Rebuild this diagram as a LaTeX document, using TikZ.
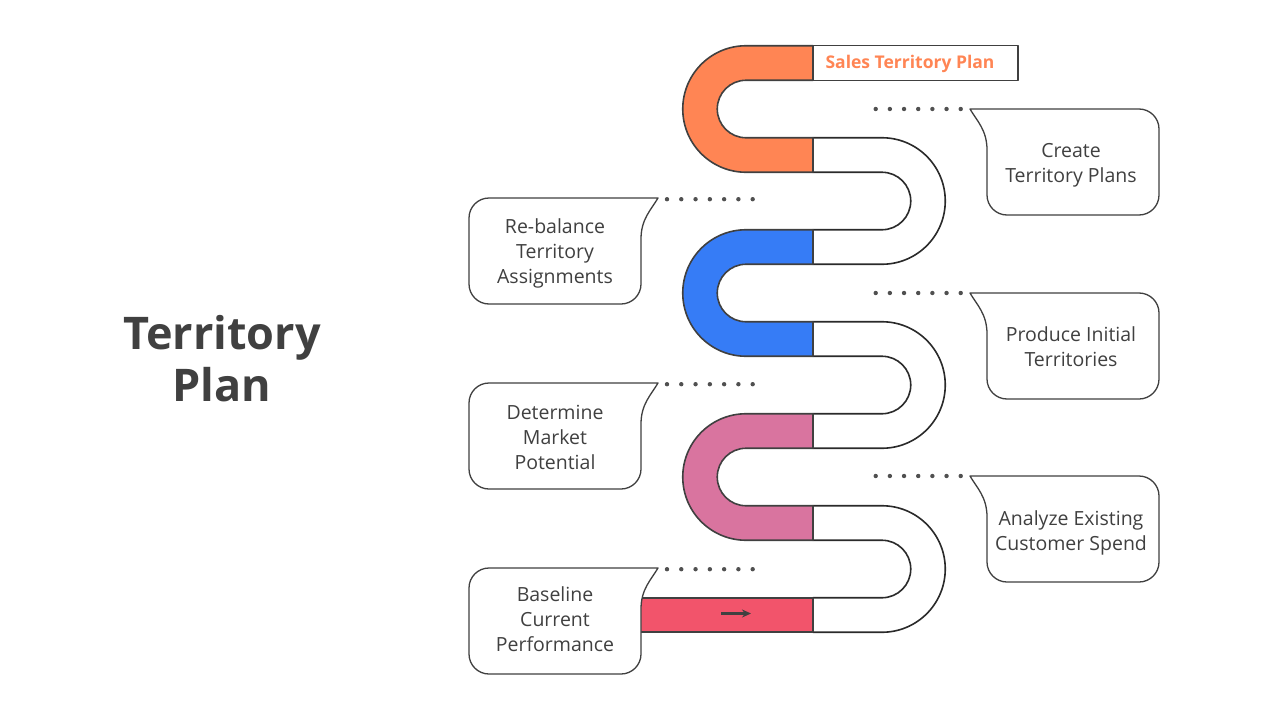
\documentclass[tikz,border=0pt]{standalone}
\usepackage{fontspec}
\setmainfont{Open Sans}
\usetikzlibrary{arrows.meta}
\definecolor{ink}{HTML}{404040}
\definecolor{darkink}{HTML}{2A2A2A}
\definecolor{orangeC}{HTML}{FF8554}
\definecolor{blueC}{HTML}{367CF6}
\definecolor{pinkC}{HTML}{D9749F}
\definecolor{redC}{HTML}{F2546B}
\definecolor{dotC}{HTML}{505050}
\tikzset{
  band/.style={draw=ink, line width=1.6pt, line join=round},
  whiteband/.style={draw=darkink, line width=1.6pt, line join=round},
  callout/.style={draw=ink, line width=1.3pt, fill=white, line join=round},
  ctext/.style={text=ink, align=center, font=\fontsize{19.5}{25}\selectfont},
  titletext/.style={text=ink, font=\fontsize{45}{54}\selectfont\bfseries, anchor=base},
  headtext/.style={text=orangeC, font=\fontsize{17.5}{20}\selectfont\bfseries},
  dotstyle/.style={fill=dotC}
}
\newcommand\leftU[2]{%
  \filldraw[band, fill=#2] (813,-#1+63.25) -- (746,-#1+63.25) arc[start angle=90,end angle=270,radius=63.25]
    -- (813,-#1-63.25) -- (813,-#1-28.75) -- (746,-#1-28.75) arc[start angle=270,end angle=90,radius=28.75]
    -- (813,-#1+28.75) -- cycle;}
\newcommand\rightU[1]{%
  \filldraw[whiteband, fill=white] (813,-#1+63.25) -- (882,-#1+63.25) arc[start angle=90,end angle=-90,radius=63.25]
    -- (813,-#1-63.25) -- (813,-#1-28.75) -- (882,-#1-28.75) arc[start angle=-90,end angle=90,radius=28.75]
    -- (813,-#1+28.75) -- cycle;}
% #1 top y, #2 text centre offset, #3 name, #4 text
\newcommand\rbox[4]{%
  \begin{scope}[shift={(0,-#1)}]
    \draw[callout] (970,0) -- (1139,0) arc[start angle=90,end angle=0,radius=20] -- (1159,-86)
      arc[start angle=0,end angle=-90,radius=20] -- (1007,-106) arc[start angle=-90,end angle=-180,radius=20]
      -- (987,-41) .. controls (987,-21) and (977,-12) .. (970,0) -- cycle;
    \node[ctext] (#3) at (1071,-#2) {#4};
    \foreach \i in {0,...,6} \fill[dotstyle] (875.7+14.17*\i,0) circle (2.2);
  \end{scope}}
\newcommand\lbox[4]{%
  \begin{scope}[shift={(0,-#1)}]
    \draw[callout] (658,0) -- (489,0) arc[start angle=90,end angle=180,radius=20] -- (469,-86)
      arc[start angle=180,end angle=270,radius=20] -- (621,-106) arc[start angle=270,end angle=360,radius=20]
      -- (641,-41) .. controls (641,-21) and (651,-12) .. (658,0) -- cycle;
    \node[ctext] (#3) at (555,-#2) {#4};
    \foreach \i in {0,...,6} \fill[dotstyle] (667+14.28*\i,-1.2) circle (2.2);
  \end{scope}}
\begin{document}
\begin{tikzpicture}[x=1pt,y=1pt]
  \fill[white] (0,0) rectangle (1280,-720);
  \useasboundingbox (0,0) rectangle (1280,-720);
  % title
  \node[titletext] (t1) at (222,-349) {Territory};
  \node[titletext] (t2) at (222,-401) {Plan};
  % snake
  \rightU{201}
  \rightU{385}
  \rightU{569}
  \leftU{109}{orangeC}
  \leftU{293}{blueC}
  \leftU{477}{pinkC}
  \filldraw[band, fill=redC] (640,-597.75) rectangle (813,-632.25);
  \coordinate (a1) at (721,-613.5);
  \coordinate (a2) at (751,-613.5);
  \draw[draw=ink, line width=2.4pt, -{Stealth[length=9pt,width=8pt]}] (a1) -- (a2);
  % header
  \draw[band, line width=1.4pt] (813,-45.75) rectangle (1018,-80.25);
  \node[headtext] (head) at (910,-63.5) {Sales Territory Plan};
  % callouts
  \rbox{109}{56}{c1}{Create\\Territory Plans}
  \rbox{293}{54}{c2}{Produce Initial\\Territories}
  \rbox{476}{57}{c3}{Analyze Existing\\Customer Spend}
  \lbox{198}{55}{c4}{Re-balance\\Territory\\Assignments}
  \lbox{383}{54}{c5}{Determine\\Market\\Potential}
  \lbox{568}{51}{c6}{Baseline\\Current\\Performance}
\end{tikzpicture}
\end{document}
